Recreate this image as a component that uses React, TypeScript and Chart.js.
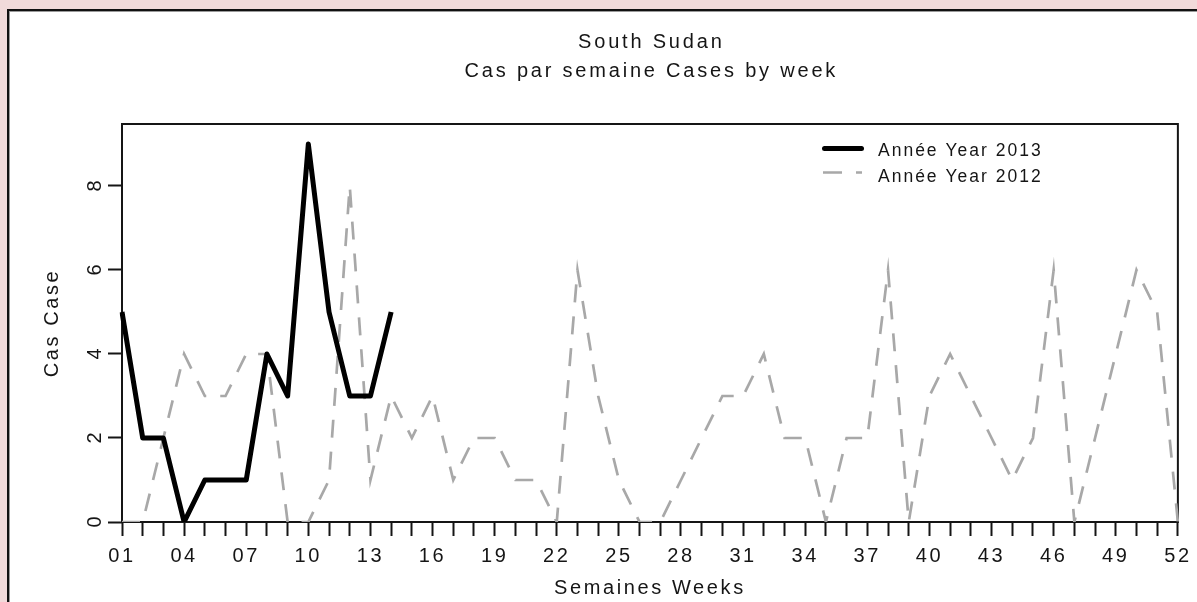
import { useEffect, useRef } from 'react';
import { Chart, registerables } from 'chart.js';

Chart.register(...registerables);

const weekLabels = [
  '01', '02', '03', '04', '05', '06', '07', '08', '09', '10',
  '11', '12', '13', '14', '15', '16', '17', '18', '19', '20',
  '21', '22', '23', '24', '25', '26', '27', '28', '29', '30',
  '31', '32', '33', '34', '35', '36', '37', '38', '39', '40',
  '41', '42', '43', '44', '45', '46', '47', '48', '49', '50',
  '51', '52',
];
const cases2013 = [5, 2, 2, 0, 1, 1, 1, 4, 3, 9, 5, 3, 3, 5];
const cases2012 = [
  0, 0, 2, 4, 3, 3, 4, 4, 0, 0,
  1, 8, 1, 3, 2, 3, 1, 2, 2, 1,
  1, 0, 6, 3, 1, 0, 0, 1, 2, 3,
  3, 4, 2, 2, 0, 2, 2, 6, 0, 3,
  4, 3, 2, 1, 2, 6, 0, 2, 4, 6,
  5, 0,
];
const yTicks = [0, 2, 4, 6, 8];
const yMax = 9.476;
const titleLines = ['South Sudan', 'Cas par semaine Cases by week'];
const seriesNames = ['Année Year 2013', 'Année Year 2012'];
const xTitle = 'Semaines Weeks';
const yTitle = 'Cas Case';

const FONT = '"Liberation Sans", Arial, sans-serif';
const INK = '#151515';
const GREY = '#a8a8a8';

export default function App() {
  const ref = useRef<HTMLCanvasElement>(null);

  useEffect(() => {
    const canvas = ref.current;
    if (!canvas) return;

    const deco = {
      id: 'deco',
      beforeDraw(chart: any) {
        chart.ctx.letterSpacing = '2.6px';
      },
      beforeDatasetsDraw(chart: any) {
        const { ctx, chartArea: a } = chart;
        ctx.save();
        ctx.strokeStyle = INK;
        ctx.lineWidth = 2;
        ctx.strokeRect(a.left, a.top, a.right - a.left, a.bottom - a.top);
        ctx.restore();
      },
      afterDraw(chart: any) {
        const { ctx, chartArea: a } = chart;
        const yScale = chart.scales.y;
        ctx.save();
        ctx.fillStyle = INK;
        // titles
        ctx.font = `20px ${FONT}`;
        ctx.letterSpacing = '2.8px';
        ctx.textAlign = 'center';
        ctx.textBaseline = 'alphabetic';
        const cx = (a.left + a.right) / 2 + 1.4;
        ctx.fillText(titleLines[0], cx, 48);
        ctx.fillText(titleLines[1], cx, 77);
        // y tick labels (rotated)
        ctx.letterSpacing = '0px';
        for (const v of yTicks) {
          const py = yScale.getPixelForValue(v);
          ctx.save();
          ctx.translate(101, py);
          ctx.rotate(-Math.PI / 2);
          ctx.textAlign = 'center';
          ctx.fillText(String(v), 0, 0);
          ctx.restore();
        }
        // legend
        const lx0 = 823;
        ctx.strokeStyle = '#000';
        ctx.lineWidth = 5;
        ctx.lineCap = 'round';
        ctx.beginPath();
        ctx.moveTo(lx0 + 1.5, 148.5);
        ctx.lineTo(lx0 + 38.5, 148.5);
        ctx.stroke();
        ctx.strokeStyle = GREY;
        ctx.lineWidth = 2.7;
        ctx.lineCap = 'butt';
        ctx.setLineDash([19, 14]);
        ctx.beginPath();
        ctx.moveTo(lx0, 172.5);
        ctx.lineTo(lx0 + 39, 172.5);
        ctx.stroke();
        ctx.setLineDash([]);
        ctx.font = `17.5px ${FONT}`;
        ctx.letterSpacing = '2px';
        ctx.textAlign = 'left';
        ctx.fillStyle = INK;
        ctx.fillText(seriesNames[0], 878, 156);
        ctx.fillText(seriesNames[1], 878, 182);
        ctx.restore();
      },
    };

    const tickGrid = {
      display: true,
      drawOnChartArea: false,
      drawTicks: true,
      tickLength: 14,
      tickWidth: 2,
      tickColor: INK,
    };

    const chart = new Chart(canvas, {
      type: 'line',
      data: {
        labels: weekLabels,
        datasets: [
          {
            label: seriesNames[0],
            data: cases2013,
            borderColor: '#000',
            borderWidth: 5,
            borderJoinStyle: 'round',
            pointRadius: 0,
            tension: 0,
            fill: false,
          },
          {
            label: seriesNames[1],
            data: cases2012,
            borderColor: GREY,
            borderWidth: 2.7,
            borderDash: [18, 14],
            pointRadius: 0,
            tension: 0,
            fill: false,
          },
        ],
      },
      options: {
        responsive: false,
        animation: false,
        devicePixelRatio: 1,
        events: [],
        layout: { padding: { top: 124, right: 18, left: 0, bottom: 0 } },
        plugins: {
          legend: { display: false },
          title: { display: false },
          tooltip: { enabled: false },
        },
        scales: {
          x: {
            type: 'category',
            offset: false,
            grid: tickGrid,
            border: { display: false },
            ticks: {
              autoSkip: false,
              maxRotation: 0,
              minRotation: 0,
              padding: 8,
              color: INK,
              font: { family: FONT, size: 20 },
              callback: (_v: any, i: number) => (i % 3 === 0 ? weekLabels[i] : ''),
            },
            title: {
              display: true,
              text: xTitle,
              color: INK,
              font: { family: FONT, size: 20 },
              padding: { top: 0, bottom: 2 },
            },
            afterFit: (s: any) => {
              s.height = 80;
            },
          },
          y: {
            type: 'linear',
            min: 0,
            max: yMax,
            afterBuildTicks: (s: any) => {
              s.ticks = yTicks.map((v) => ({ value: v }));
            },
            grid: tickGrid,
            border: { display: false },
            ticks: { display: false },
            title: {
              display: true,
              text: yTitle,
              color: INK,
              font: { family: FONT, size: 20 },
              padding: { top: 40, bottom: 0 },
            },
            afterFit: (s: any) => {
              s.width = 122;
            },
          },
        },
      },
      plugins: [deco],
    } as any);

    return () => chart.destroy();
  }, []);

  return (
    <div style={{ position: 'fixed', inset: 0, background: '#f1dada', overflow: 'hidden' }}>
      <div
        style={{
          position: 'absolute',
          left: 7,
          top: 9,
          width: 1300,
          height: 700,
          background: '#fff',
          borderTop: '2px solid #111',
          borderLeft: '2px solid #111',
          boxShadow: 'inset 1px 1px 0 #9a9a9a',
        }}
      />
      <canvas
        ref={ref}
        width={1197}
        height={602}
        style={{ position: 'absolute', left: 0, top: 0 }}
      />
    </div>
  );
}
